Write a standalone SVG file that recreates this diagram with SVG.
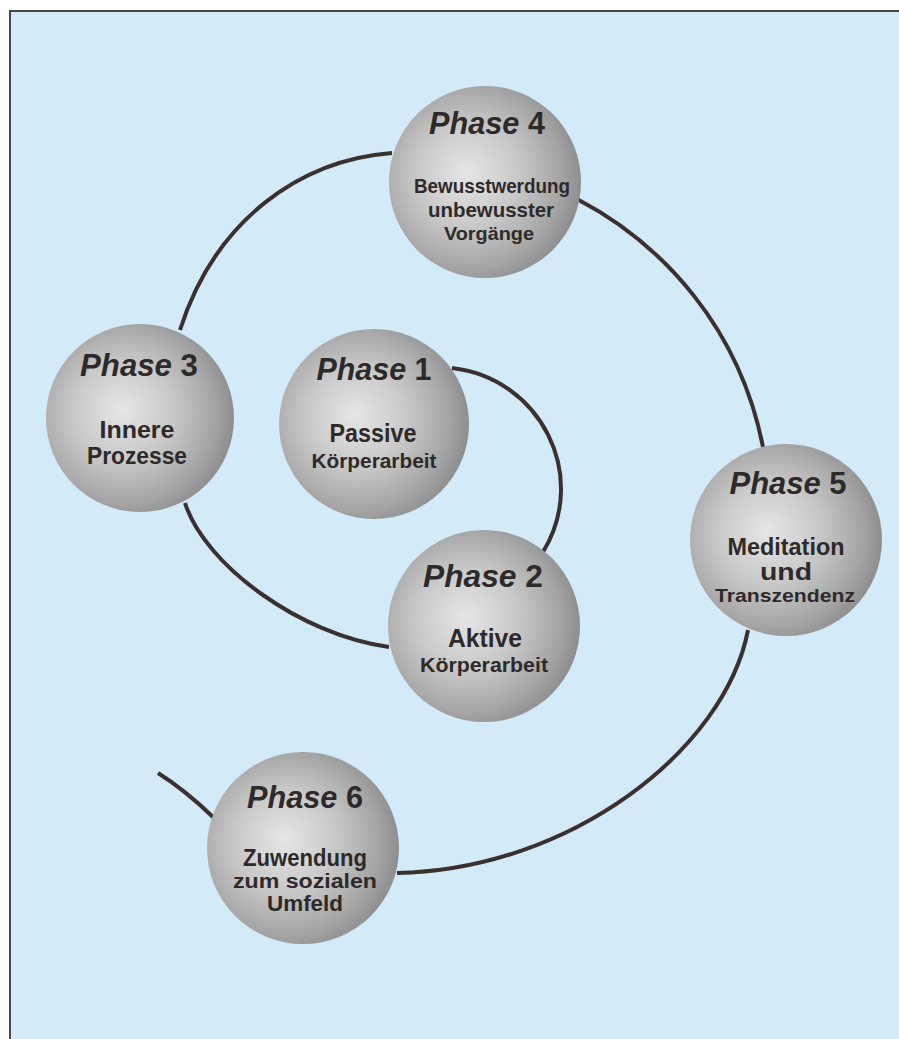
<svg xmlns="http://www.w3.org/2000/svg" width="899" height="1039" viewBox="0 0 899 1039">
<defs>
<radialGradient id="sphere" cx="0.42" cy="0.48" r="0.6" fx="0.4" fy="0.45">
<stop offset="0" stop-color="#e6e6e6"/>
<stop offset="0.45" stop-color="#c8c8c8"/>
<stop offset="0.8" stop-color="#a4a4a4"/>
<stop offset="1" stop-color="#8a8a8a"/>
</radialGradient>
<style>
.bg{fill:#d3eaf9}
.frame{stroke:#4a4646;stroke-width:2;fill:none}
.conn{stroke:#3a3030;stroke-width:4;fill:none;stroke-linecap:butt}
.ball{fill:url(#sphere)}
.t{font-family:"Liberation Sans",Arial,sans-serif;font-weight:bold;fill:#2e2a2a;text-anchor:middle}
.ph{font-size:31px}
.it{font-style:italic}
</style>
</defs>
<rect x="0" y="0" width="899" height="1039" fill="#ffffff"/>
<rect class="bg" x="10" y="11" width="889" height="1028"/>
<path class="frame" d="M10,1039 L10,11 L899,11"/>
<g id="connectors">
<path class="conn" d="M452,368 C540,378 590,475 543,552"/>
<path class="conn" d="M389,647 C300,635 205,565 185,503"/>
<path class="conn" d="M180,330 C215,220 300,160 392,153"/>
<path class="conn" d="M577,199 C665,245 740,330 763,447"/>
<path class="conn" d="M748,630 C725,750 570,870 397,873"/>
<path class="conn" d="M213,817 Q185,790 158,773"/>
</g>
<g id="phase1">
<circle class="ball" cx="374" cy="424" r="95"/>
<text class="t ph" x="374" y="380" textLength="115" lengthAdjust="spacingAndGlyphs"><tspan class="it">Phase</tspan> 1</text>
<text class="t" x="373" y="442" font-size="25" textLength="87" lengthAdjust="spacingAndGlyphs">Passive</text>
<text class="t" x="374" y="468" font-size="21" textLength="125" lengthAdjust="spacingAndGlyphs">Körperarbeit</text>
</g>
<g id="phase2">
<circle class="ball" cx="484" cy="626" r="96"/>
<text class="t ph" x="483" y="587" textLength="120" lengthAdjust="spacingAndGlyphs"><tspan class="it">Phase</tspan> 2</text>
<text class="t" x="485" y="647" font-size="25" textLength="74" lengthAdjust="spacingAndGlyphs">Aktive</text>
<text class="t" x="484" y="672" font-size="21" textLength="128" lengthAdjust="spacingAndGlyphs">Körperarbeit</text>
</g>
<g id="phase3">
<circle class="ball" cx="140" cy="418" r="94"/>
<text class="t ph" x="139" y="376" textLength="118" lengthAdjust="spacingAndGlyphs"><tspan class="it">Phase</tspan> 3</text>
<text class="t" x="137" y="438" font-size="24" textLength="75" lengthAdjust="spacingAndGlyphs">Innere</text>
<text class="t" x="137" y="464" font-size="23" textLength="100" lengthAdjust="spacingAndGlyphs">Prozesse</text>
</g>
<g id="phase4">
<circle class="ball" cx="485" cy="182" r="96"/>
<text class="t ph" x="487" y="134" textLength="116" lengthAdjust="spacingAndGlyphs"><tspan class="it">Phase</tspan> 4</text>
<text class="t" x="492" y="193" font-size="21" textLength="156" lengthAdjust="spacingAndGlyphs">Bewusstwerdung</text>
<text class="t" x="491" y="217" font-size="21" textLength="126" lengthAdjust="spacingAndGlyphs">unbewusster</text>
<text class="t" x="489" y="240" font-size="19" textLength="90" lengthAdjust="spacingAndGlyphs">Vorgänge</text>
</g>
<g id="phase5">
<circle class="ball" cx="786" cy="540" r="96"/>
<text class="t ph" x="788" y="494" textLength="117" lengthAdjust="spacingAndGlyphs"><tspan class="it">Phase</tspan> 5</text>
<text class="t" x="786" y="555" font-size="24" textLength="117" lengthAdjust="spacingAndGlyphs">Meditation</text>
<text class="t" x="786" y="580" font-size="24" textLength="52" lengthAdjust="spacingAndGlyphs">und</text>
<text class="t" x="785" y="602" font-size="19" textLength="140" lengthAdjust="spacingAndGlyphs">Transzendenz</text>
</g>
<g id="phase6">
<circle class="ball" cx="303" cy="848" r="96"/>
<text class="t ph" x="305" y="808" textLength="116" lengthAdjust="spacingAndGlyphs"><tspan class="it">Phase</tspan> 6</text>
<text class="t" x="305" y="866" font-size="23" textLength="124" lengthAdjust="spacingAndGlyphs">Zuwendung</text>
<text class="t" x="305" y="888" font-size="20" textLength="144" lengthAdjust="spacingAndGlyphs">zum sozialen</text>
<text class="t" x="305" y="911" font-size="22" textLength="76" lengthAdjust="spacingAndGlyphs">Umfeld</text>
</g>
</svg>
